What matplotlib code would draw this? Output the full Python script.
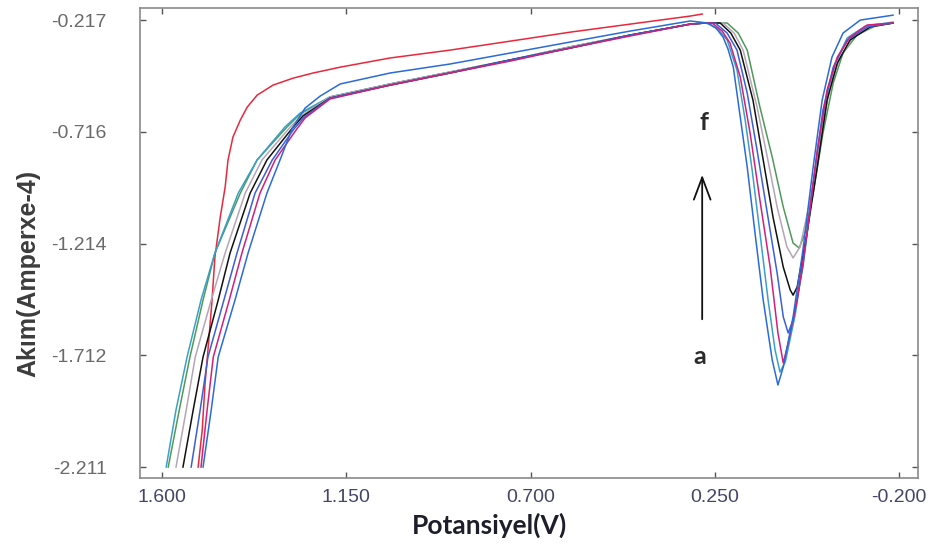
"""Linear sweep voltammograms, a-f plus blank."""

import matplotlib

matplotlib.use("Agg")
import matplotlib.pyplot as plt

# potential (V) / current (x1e-4 A)
blank_x = [1.512, 1.502, 1.495, 1.488, 1.478, 1.471, 1.458, 1.446, 1.439, 1.427, 1.409, 1.392,
           1.368, 1.329, 1.280, 1.231, 1.165, 1.043, 0.897, 0.750, 0.604, 0.457, 0.310, 0.281]
blank_y = [-2.211, -2.046, -1.836, -1.689, -1.466, -1.274, -1.096, -0.962, -0.841, -0.739, -0.663, -0.605,
           -0.552, -0.507, -0.476, -0.453, -0.427, -0.386, -0.351, -0.311, -0.271, -0.235, -0.199, -0.190]

a_x = [1.500, 1.480, 1.463, 1.422, 1.390, 1.344, 1.312, 1.282, 1.251, 1.214, 1.165, 1.043, 0.897,
       0.750, 0.604, 0.457, 0.310, 0.286, 0.269, 0.247, 0.230, 0.218, 0.205, 0.188, 0.171, 0.152, 0.132,
       0.110, 0.096, 0.083, 0.059, 0.035, 0.010, -0.012, -0.036, -0.063, -0.105, -0.185]
a_y = [-2.211, -1.956, -1.720, -1.466, -1.256, -0.989, -0.841, -0.699, -0.610, -0.556, -0.502, -0.453, -0.413,
       -0.364, -0.315, -0.266, -0.221, -0.226, -0.230, -0.253, -0.293, -0.346, -0.427, -0.650, -0.873, -1.167,
       -1.466, -1.733, -1.845, -1.765, -1.541, -1.243, -0.873, -0.574, -0.382, -0.275, -0.217, -0.195]

g_x = [1.590, 1.566, 1.539, 1.505, 1.471, 1.414, 1.368, 1.300, 1.263, 1.190, 1.043, 0.897, 0.750,
       0.604, 0.457, 0.310, 0.274, 0.262, 0.240, 0.220, 0.196, 0.176, 0.159, 0.140, 0.120, 0.103, 0.091,
       0.078, 0.054, 0.030, 0.005, -0.019, -0.044, -0.073, -0.117, -0.185]
g_y = [-2.211, -1.956, -1.720, -1.466, -1.256, -0.989, -0.841, -0.694, -0.632, -0.560, -0.502, -0.449, -0.395,
       -0.337, -0.284, -0.235, -0.230, -0.235, -0.262, -0.306, -0.440, -0.663, -0.886, -1.167, -1.466, -1.689,
       -1.787, -1.742, -1.533, -1.243, -0.886, -0.596, -0.409, -0.297, -0.244, -0.226]

b_x = [1.505, 1.490, 1.475, 1.436, 1.405, 1.361, 1.324, 1.273, 1.251, 1.190, 1.043, 0.897, 0.750,
       0.604, 0.457, 0.310, 0.274, 0.257, 0.232, 0.213, 0.188, 0.164, 0.140, 0.115, 0.096, 0.083, 0.071,
       0.049, 0.025, 0.000, -0.024, -0.049, -0.080, -0.122, -0.185]
b_y = [-2.211, -1.956, -1.720, -1.466, -1.256, -0.989, -0.841, -0.708, -0.654, -0.569, -0.507, -0.453, -0.400,
       -0.342, -0.288, -0.235, -0.230, -0.230, -0.266, -0.320, -0.471, -0.721, -1.020, -1.319, -1.613, -1.747,
       -1.658, -1.466, -1.167, -0.797, -0.529, -0.382, -0.293, -0.239, -0.230]

c_x = [1.529, 1.507, 1.488, 1.449, 1.417, 1.373, 1.331, 1.278, 1.253, 1.190, 1.043, 0.897, 0.750,
       0.604, 0.457, 0.310, 0.274, 0.249, 0.220, 0.196, 0.171, 0.147, 0.122, 0.098, 0.083, 0.071, 0.059,
       0.035, 0.010, -0.014, -0.039, -0.073, -0.122, -0.185]
c_y = [-2.211, -1.956, -1.720, -1.466, -1.256, -0.989, -0.841, -0.703, -0.650, -0.565, -0.507, -0.453, -0.395,
       -0.342, -0.284, -0.235, -0.230, -0.230, -0.275, -0.351, -0.543, -0.797, -1.078, -1.345, -1.541, -1.613,
       -1.555, -1.319, -0.944, -0.618, -0.427, -0.306, -0.248, -0.230]

d_x = [1.549, 1.524, 1.500, 1.463, 1.434, 1.385, 1.344, 1.282, 1.256, 1.190, 1.043, 0.897, 0.750,
       0.604, 0.457, 0.310, 0.274, 0.237, 0.211, 0.188, 0.157, 0.132, 0.108, 0.083, 0.066, 0.059, 0.049,
       0.025, 0.000, -0.024, -0.049, -0.080, -0.129, -0.185]
d_y = [-2.211, -1.956, -1.720, -1.466, -1.256, -0.989, -0.841, -0.699, -0.645, -0.565, -0.507, -0.453, -0.395,
       -0.342, -0.284, -0.235, -0.230, -0.230, -0.275, -0.351, -0.574, -0.841, -1.096, -1.319, -1.421, -1.444,
       -1.408, -1.167, -0.873, -0.574, -0.409, -0.306, -0.248, -0.230]

e_x = [1.566, 1.541, 1.519, 1.480, 1.446, 1.397, 1.356, 1.287, 1.258, 1.190, 1.043, 0.897, 0.750,
       0.604, 0.457, 0.310, 0.274, 0.230, 0.203, 0.181, 0.147, 0.122, 0.098, 0.074, 0.059, 0.042, 0.017,
       -0.007, -0.031, -0.056, -0.088, -0.136, -0.185]
e_y = [-2.211, -1.956, -1.720, -1.466, -1.256, -0.989, -0.841, -0.694, -0.641, -0.560, -0.502, -0.449, -0.395,
       -0.337, -0.284, -0.235, -0.230, -0.230, -0.275, -0.351, -0.605, -0.828, -1.051, -1.229, -1.278, -1.229,
       -1.020, -0.766, -0.516, -0.382, -0.293, -0.244, -0.230]

f_x = [1.585, 1.558, 1.532, 1.500, 1.471, 1.409, 1.368, 1.295, 1.263, 1.190, 1.043, 0.897, 0.750,
       0.604, 0.457, 0.310, 0.274, 0.220, 0.193, 0.171, 0.140, 0.110, 0.083, 0.059, 0.044, 0.030, 0.010,
       -0.014, -0.039, -0.063, -0.097, -0.146, -0.185]
f_y = [-2.211, -1.956, -1.720, -1.466, -1.256, -0.989, -0.841, -0.694, -0.636, -0.560, -0.502, -0.449, -0.395,
       -0.337, -0.284, -0.235, -0.230, -0.230, -0.275, -0.351, -0.605, -0.828, -1.051, -1.212, -1.234, -1.167,
       -0.989, -0.721, -0.498, -0.364, -0.284, -0.239, -0.230]

x_ticks = [1.600, 1.150, 0.700, 0.250, -0.200]
y_ticks = [-0.217, -0.716, -1.214, -1.712, -2.211]

curves = [
    (blank_x, blank_y, "#e8283c"),
    (f_x, f_y, "#4f9a5a"),
    (g_x, g_y, "#3aa0c8"),
    (e_x, e_y, "#b4a6b4"),
    (d_x, d_y, "#111111"),
    (c_x, c_y, "#3a5fd6"),
    (b_x, b_y, "#d0207a"),
    (a_x, a_y, "#2a6bd8"),
]

fig = plt.figure(figsize=(9.37, 5.47), dpi=100)
ax = fig.add_axes([0.1494, 0.1261, 0.8303, 0.8593])

for xs, ys, col in curves:
    ax.plot(xs, ys, color=col, linewidth=1.1)

ax.set_xlim(1.654, -0.246)
ax.set_ylim(-2.260, -0.163)

ax.set_xticks(x_ticks)
ax.set_xticklabels([f"{v:.3f}" for v in x_ticks])
ax.set_yticks(y_ticks)
ax.set_yticklabels([f"{v:.3f}" for v in y_ticks])
ax.tick_params(direction="in", length=4, width=1, color="#555555",
               top=True, right=True, labelfontfamily="Liberation Sans", labelsize=14)
ax.tick_params(axis="x", pad=8, labelcolor="#45456a")
ax.tick_params(axis="y", pad=24, labelcolor="#6a6a6a")
for sp in ax.spines.values():
    sp.set_color("#8a8a8a")
    sp.set_linewidth(1.2)

ax.set_xlabel("Potansiyel(V)", fontsize=19, fontweight="bold", color="#1e1e2a",
              family="Lato", va="center")
ax.xaxis.set_label_coords(0.449, -0.10)
ax.set_ylabel("Akım(Amperxe-4)", fontsize=18, fontweight="bold", color="#3c3c3c",
              family="Liberation Sans", va="center")
ax.yaxis.set_label_coords(-0.144, 0.436)

# a -> f arrow
ax.annotate("", xy=(0.281, -0.895), xytext=(0.281, -1.564),
            arrowprops=dict(arrowstyle="->,head_length=1.6,head_width=0.6", color="#111111", lw=1.3))
ax.text(0.276, -0.672, "f", fontsize=18, fontweight="bold", color="#2a2a2a",
        family="Lato", ha="center", va="center")
ax.text(0.286, -1.720, "a", fontsize=18, fontweight="bold", color="#2a2a2a",
        family="Lato", ha="center", va="center")

fig.savefig("out.png", dpi=100)
